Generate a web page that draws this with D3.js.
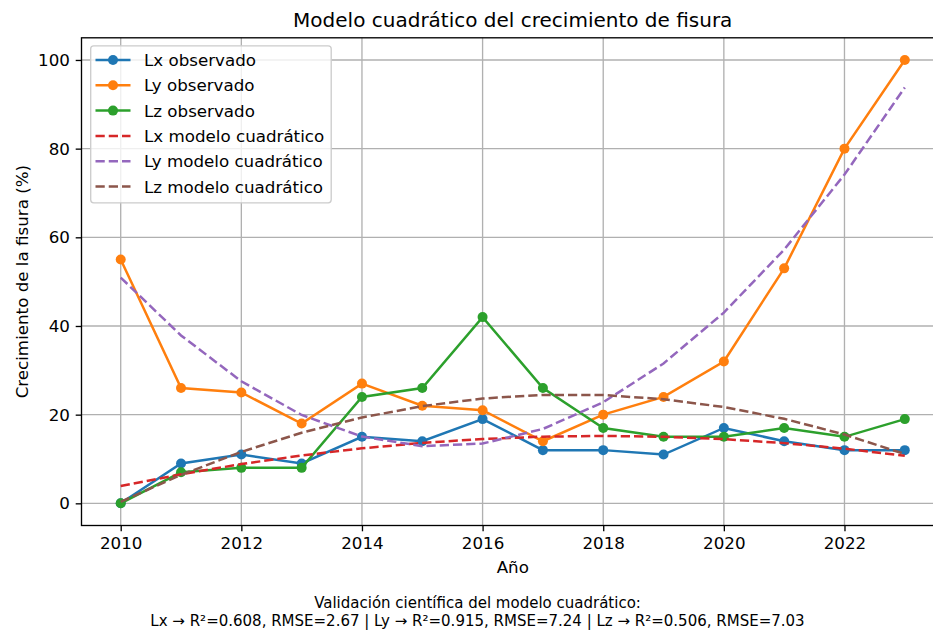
<!DOCTYPE html>
<html>
<head>
<meta charset="utf-8">
<script src="https://cdn.jsdelivr.net/npm/d3@7"></script>
<style>
  html, body { margin: 0; padding: 0; background: #fff; }
  svg { display: block; font-family: "DejaVu Sans", sans-serif; }
</style>
</head>
<body>
<svg id="chart" width="933" height="632"></svg>
<script>
// ---- Data ----
const years = [2010, 2011, 2012, 2013, 2014, 2015, 2016, 2017, 2018, 2019, 2020, 2021, 2022, 2023];
const lxObs = [0, 9, 11, 9, 15, 14, 19, 12, 12, 11, 17, 14, 12, 12];
const lyObs = [55, 26, 25, 18, 27, 22, 21, 14, 20, 24, 32, 53, 80, 100];
const lzObs = [0, 7, 8, 8, 24, 26, 42, 26, 17, 15, 15, 17, 15, 19];
const lxModel = [3.89, 6.55, 8.85, 10.80, 12.40, 13.63, 14.51, 15.04, 15.21, 15.02, 14.48, 13.58, 12.33, 10.72];
const lyModel = [50.91, 37.86, 27.53, 19.93, 15.06, 12.90, 13.48, 16.78, 22.80, 31.55, 43.02, 57.22, 74.15, 93.80];
const lzModel = [0.35, 6.41, 11.60, 15.92, 19.36, 21.93, 23.64, 24.46, 24.42, 23.50, 21.72, 19.06, 15.52, 11.12];
const xTicks = [2010, 2012, 2014, 2016, 2018, 2020, 2022];
const yTicks = [0, 20, 40, 60, 80, 100];
const seriesNames = ["Lx observado", "Ly observado", "Lz observado",
                     "Lx modelo cuadrático", "Ly modelo cuadrático", "Lz modelo cuadrático"];
const titleText = "Modelo cuadrático del crecimiento de fisura";
const xLabelText = "Año";
const yLabelText = "Crecimiento de la fisura (%)";
const footerLines = ["Validación científica del modelo cuadrático:",
  "Lx → R²=0.608, RMSE=2.67 | Ly → R²=0.915, RMSE=7.24 | Lz → R²=0.506, RMSE=7.03"];

// ---- Layout ----
const svg = d3.select("#chart");
const pL = 81.5, pR = 944, pT = 37.8, pB = 525.5;
const x = d3.scaleLinear().domain([2009.35, 2023.65]).range([pL, pR]);
const y = d3.scaleLinear().domain([-5, 105]).range([pB, pT]);
const FS = 16.7;   // 10pt @120dpi
const LW = 2.5;    // 1.5pt
const DASH = "9.25,4";

const series = [
  { name: seriesNames[0], values: lxObs, color: "#1f77b4", dashed: false },
  { name: seriesNames[1], values: lyObs, color: "#ff7f0e", dashed: false },
  { name: seriesNames[2], values: lzObs, color: "#2ca02c", dashed: false },
  { name: seriesNames[3], values: lxModel, color: "#d62728", dashed: true },
  { name: seriesNames[4], values: lyModel, color: "#9467bd", dashed: true },
  { name: seriesNames[5], values: lzModel, color: "#8c564b", dashed: true }
];

svg.append("defs").append("clipPath").attr("id", "clip")
  .append("rect").attr("x", pL).attr("y", pT).attr("width", pR - pL).attr("height", pB - pT);

// Grid
const grid = svg.append("g");
grid.selectAll("line.gx").data(xTicks).join("line")
  .attr("x1", d => x(d)).attr("x2", d => x(d)).attr("y1", pT).attr("y2", pB)
  .attr("stroke", "#b0b0b0").attr("stroke-width", 1.33);
grid.selectAll("line.gy").data(yTicks).join("line")
  .attr("x1", pL).attr("x2", pR).attr("y1", d => y(d)).attr("y2", d => y(d))
  .attr("stroke", "#b0b0b0").attr("stroke-width", 1.33);

// Lines
const plot = svg.append("g").attr("clip-path", "url(#clip)");
const line = d3.line().x((d, i) => x(years[i])).y(d => y(d));
series.forEach(s => {
  plot.append("path").datum(s.values)
    .attr("fill", "none").attr("stroke", s.color).attr("stroke-width", LW)
    .attr("stroke-dasharray", s.dashed ? DASH : null)
    .attr("d", line);
  if (!s.dashed) {
    plot.selectAll(null).data(s.values).join("circle")
      .attr("cx", (d, i) => x(years[i])).attr("cy", d => y(d)).attr("r", 5)
      .attr("fill", s.color);
  }
});

// Axes
const xAxis = d3.axisBottom(x).tickValues(xTicks).tickFormat(d3.format("d")).tickSize(5.8).tickPadding(5.8);
const yAxis = d3.axisLeft(y).tickValues(yTicks).tickFormat(d3.format("d")).tickSize(5.8).tickPadding(5.8);
const gx = svg.append("g").attr("transform", `translate(0,${pB})`).call(xAxis);
const gy = svg.append("g").attr("transform", `translate(${pL},0)`).call(yAxis);
[gx, gy].forEach(g => {
  g.select(".domain").remove();
  g.selectAll(".tick line").attr("stroke", "#000").attr("stroke-width", 1.33);
  g.selectAll(".tick text").attr("font-size", FS).attr("fill", "#000")
    .attr("font-family", "DejaVu Sans, sans-serif");
});

// Spines
svg.append("rect").attr("x", pL).attr("y", pT).attr("width", pR - pL).attr("height", pB - pT)
  .attr("fill", "none").attr("stroke", "#000").attr("stroke-width", 1.33);

// Title & labels
svg.append("text").attr("x", (pL + pR) / 2).attr("y", 27).attr("text-anchor", "middle")
  .attr("font-size", 20).attr("fill", "#000").text(titleText);
svg.append("text").attr("x", (pL + pR) / 2).attr("y", 573.3).attr("text-anchor", "middle")
  .attr("font-size", FS).attr("fill", "#000").text(xLabelText);
svg.append("text").attr("transform", `translate(27.5,${(pT + pB) / 2}) rotate(-90)`).attr("text-anchor", "middle")
  .attr("font-size", FS).attr("fill", "#000").text(yLabelText);
footerLines.forEach((t, i) => {
  svg.append("text").attr("x", 477.5).attr("y", 608 + i * 17.7).attr("text-anchor", "middle")
    .attr("font-size", 15).attr("fill", "#000").text(t);
});

// Legend
const lg = svg.append("g");
lg.append("rect").attr("x", 90.7).attr("y", 45.8).attr("width", 240.5).attr("height", 157)
  .attr("rx", 3).attr("fill", "#fff").attr("fill-opacity", 0.8)
  .attr("stroke", "#cccccc").attr("stroke-width", 1.33);
series.forEach((s, i) => {
  const cy = 60 + i * 25.3;
  lg.append("line").attr("x1", 95.5).attr("x2", 130.5).attr("y1", cy).attr("y2", cy)
    .attr("stroke", s.color).attr("stroke-width", LW)
    .attr("stroke-dasharray", s.dashed ? DASH : null);
  if (!s.dashed) lg.append("circle").attr("cx", 113).attr("cy", cy).attr("r", 5).attr("fill", s.color);
  lg.append("text").attr("x", 144).attr("y", cy + 6).attr("font-size", FS).attr("fill", "#000").text(s.name);
});
</script>
</body>
</html>
